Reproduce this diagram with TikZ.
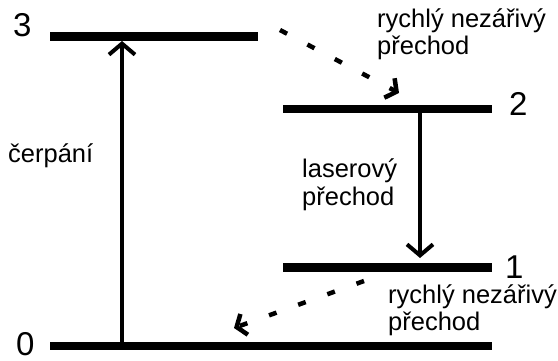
\documentclass[tikz,border=0pt]{standalone}
\usepackage{fontspec}
\setmainfont{Liberation Sans}
\usetikzlibrary{arrows.meta}
\begin{document}
\begin{tikzpicture}[x=1pt,y=-1pt,
  level/.style={line width=8.5pt},
  solidarrow/.style={line width=4pt,-{Straight Barb[length=11pt,width=26pt,line width=4pt]}},
  dasharrow/.style={line width=4.5pt,dash pattern=on 8pt off 23pt,-{Straight Barb[length=8pt,width=22pt,line width=4.5pt]}},
  lbl/.style={font=\fontsize{25.5}{27}\selectfont,anchor=base west,inner sep=0pt},
  num/.style={font=\fontsize{33}{33}\selectfont,anchor=base west,inner sep=0pt}]
\useasboundingbox (0,0) rectangle (558,361);
% levels
\coordinate (l3a) at (50,36.5); \coordinate (l3b) at (258,36.5);
\coordinate (l2a) at (283,109); \coordinate (l2b) at (492,109);
\coordinate (l1a) at (283,267.5); \coordinate (l1b) at (492,267.5);
\coordinate (l0a) at (50,346); \coordinate (l0b) at (492,346);
\draw[level] (l3a) -- (l3b);
\draw[level] (l2a) -- (l2b);
\draw[level] (l1a) -- (l1b);
\draw[level] (l0a) -- (l0b);
% level numbers
\node[num] (n3) at (13,37) {3};
\node[num] (n2) at (509,116) {2};
\node[num] (n1) at (505,278) {1};
\node[num] (n0) at (16,355) {0};
% arrows
\coordinate (pumpS) at (122,342); \coordinate (pumpE) at (122,41);
\draw[solidarrow] (pumpS) -- (pumpE);
\coordinate (lasS) at (420,113); \coordinate (lasE) at (420,258);
\draw[solidarrow] (lasS) -- (lasE);
\coordinate (d1S) at (280,30); \coordinate (d1E) at (399,93);
\draw[dasharrow] (d1S) -- (d1E);
\coordinate (d2S) at (364,281); \coordinate (d2E) at (234,328);
\draw[dasharrow] (d2S) -- (d2E);
% labels
\node[lbl] (t1a) at (377,28) {rychlý nezářivý};
\node[lbl] (t1b) at (377,55) {přechod};
\node[lbl] (t2a) at (388,303) {rychlý nezářivý};
\node[lbl] (t2b) at (388,330) {přechod};
\node[lbl] (t3) at (8,163) {čerpání};
\node[lbl] (t4a) at (302,178) {laserový};
\node[lbl] (t4b) at (302,205) {přechod};
\end{tikzpicture}
\end{document}
